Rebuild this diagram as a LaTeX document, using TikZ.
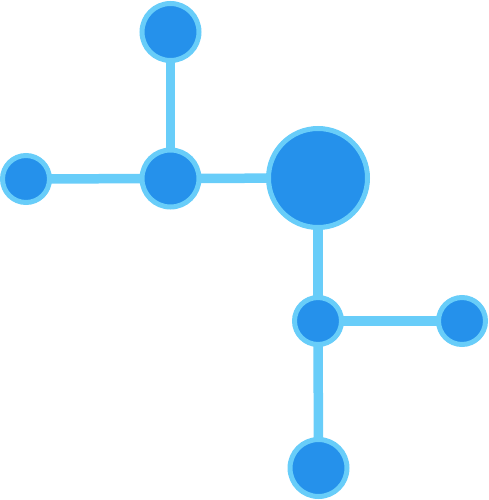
\documentclass[tikz,border=0pt]{standalone}
\usetikzlibrary{backgrounds}
\definecolor{nodefill}{HTML}{2591EB}
\definecolor{nodeline}{HTML}{68CDF9}
\begin{document}
\begin{tikzpicture}[x=1pt,y=-1pt,
  dot/.style={circle,draw=nodeline,fill=nodefill,line width=5pt,inner sep=0pt,minimum size=#1},
  link/.style={draw=nodeline,line width=9.5pt}]
\useasboundingbox (0,0) rectangle (489,500);
\node[dot=57pt] (top) at (170.5,32) {};
\node[dot=47pt] (left) at (26,179) {};
\node[dot=57pt] (mid) at (170.5,178.5) {};
\node[dot=99pt] (big) at (318,178) {};
\node[dot=47pt] (rm) at (318,321) {};
\node[dot=47pt] (right) at (462,321) {};
\node[dot=57pt] (bottom) at (318.5,468) {};
\begin{scope}[on background layer]
\draw[link] (top.center) -- (mid.center);
\draw[link] (left.center) -- (mid.center);
\draw[link] (mid.center) -- (big.center);
\draw[link] (big.center) -- (rm.center);
\draw[link] (rm.center) -- (right.center);
\draw[link] (rm.center) -- (bottom.center);
\end{scope}
\end{tikzpicture}
\end{document}
